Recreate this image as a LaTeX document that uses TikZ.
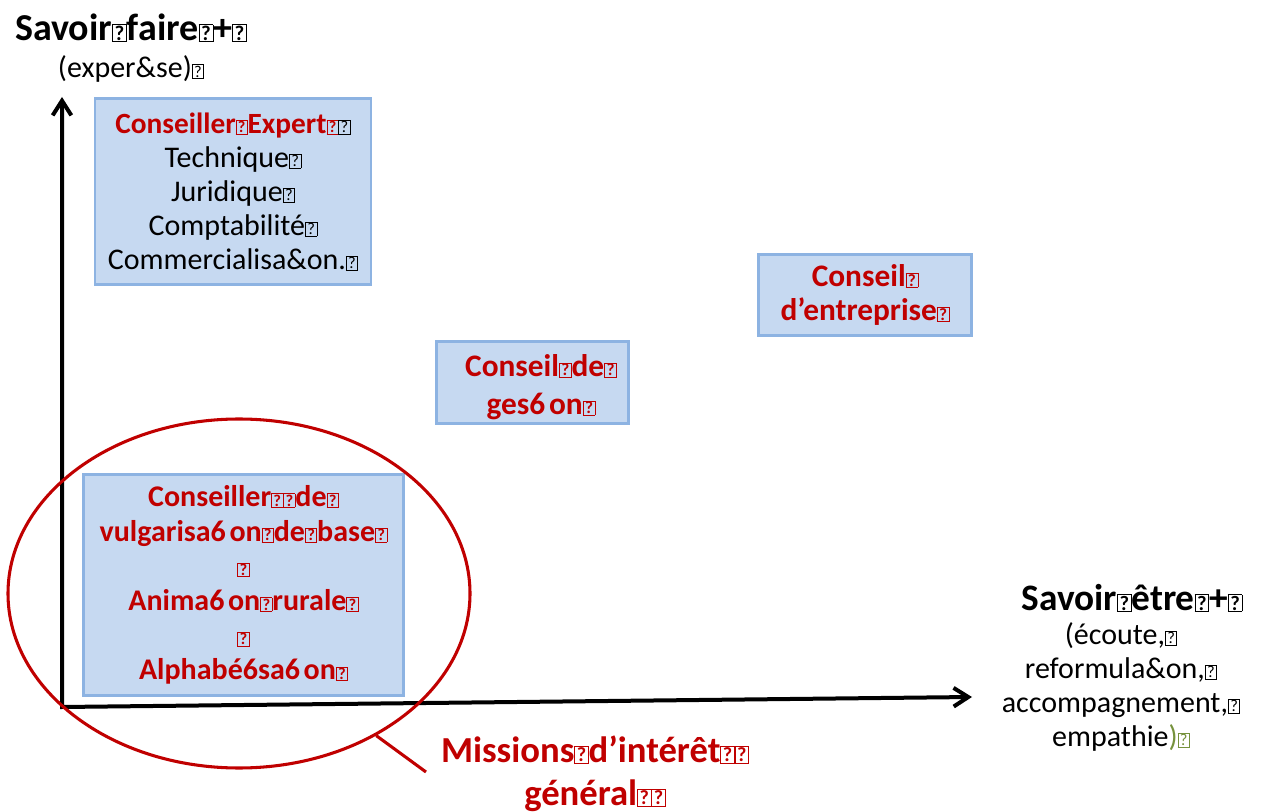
\documentclass[tikz,border=0pt]{standalone}
\usepackage{fontspec}
\setmainfont{Carlito}
\usetikzlibrary{arrows.meta,shapes.geometric}
\definecolor{dred}{HTML}{C00000}
\definecolor{boxfill}{HTML}{C6D9F1}
\definecolor{boxline}{HTML}{8DB3E2}
\definecolor{olive}{HTML}{76923C}
\newcommand{\qb}{{\setlength{\fboxsep}{0.4pt}\setlength{\fboxrule}{0.55pt}\fbox{\vbox to 0.4em{\vss\hbox to 0.32em{\hss\scalebox{0.55}{?}\hss}\vss}}}}
\newcommand{\sx}{6\kern0.12em}
\begin{document}
\begin{tikzpicture}[x=0.75pt,y=-0.75pt,
  cbox/.style={draw=boxline, fill=boxfill, line width=2.2pt, align=center, inner sep=0pt},
  redb/.style={text=dred, font=\fontsize{22.5}{26}\selectfont\bfseries},
  plain/.style={font=\fontsize{22.5}{25.5}\selectfont},
  axis/.style={line width=3pt, {Straight Barb[length=11pt,width=14pt,line width=3pt]}-{Straight Barb[length=11pt,width=14pt,line width=3pt]}},
  redline/.style={draw=dred, line width=2.3pt}]
\useasboundingbox (0,0) rectangle (1264,812);

% axes
\coordinate (ytop) at (62,97);
\coordinate (orig) at (62,707);
\coordinate (xend) at (972,697);
\draw[axis] (ytop) -- (orig) -- (xend);

% axis titles
\node[font=\fontsize{28.5}{30}\selectfont\bfseries] (sf) at (131,28) {Savoir\qb faire\qb+\qb};
\node[plain] (sfx) at (131,69) {(exper\&se)\qb};

\node[font=\fontsize{28}{30}\selectfont\bfseries] (se) at (1132,598) {Savoir\qb être\qb+\qb};
\node[plain, align=center] (sex) at (1121,686.5) {(écoute,\qb\\reformula\&on,\qb\\accompagnement,\qb\\empathie{\color{olive})\qb}};

% boxes
\node[cbox, plain, minimum width=207pt, minimum height=139.5pt] (expert) at (233,191.5)
  {{\color{dred}\fontsize{22}{25.5}\selectfont\bfseries Conseiller\qb Expert\qb}\qb\\
   Technique\qb\\
   Juridique\qb\\
   Comptabilité\qb\\
   Commercialisa\&on.\qb};

\node[cbox, minimum width=159.75pt, minimum height=60.75pt, redb, font=\fontsize{23.5}{25.5}\selectfont\bfseries] (entr) at (865,295)
  {Conseil\qb\\d’entreprise\qb};

\node[cbox, minimum width=144pt, minimum height=61.5pt] (gest) at (532.5,382.5) {};
\node[redb, font=\fontsize{23.5}{28.5}\selectfont\bfseries, align=center] (gesttext) at (541,387)
  {Conseil\qb de\qb\\ges\sx on\qb};

\node[cbox, minimum width=240pt, minimum height=165.75pt, redb] (vulg) at (243.5,585)
  {Conseiller\qb\qb de\qb\\vulgarisa\sx on\qb de\qb base\qb\\\qb\\Anima\sx on\qb rurale\qb\\\qb\\Alphabé6sa\sx on\qb};

% ellipse and label
\node[ellipse, redline, minimum width=346.5pt, minimum height=261.75pt, inner sep=0pt] (ell) at (239,593.5) {};
\coordinate (ptr) at (426,772);
\draw[redline] (ell.-46) -- (ptr);
\node[text=dred, font=\fontsize{27.5}{32}\selectfont\bfseries, align=center] (miss) at (595,773.5)
  {Missions\qb d’intérêt\qb\qb\\général\qb\qb};
\end{tikzpicture}
\end{document}
